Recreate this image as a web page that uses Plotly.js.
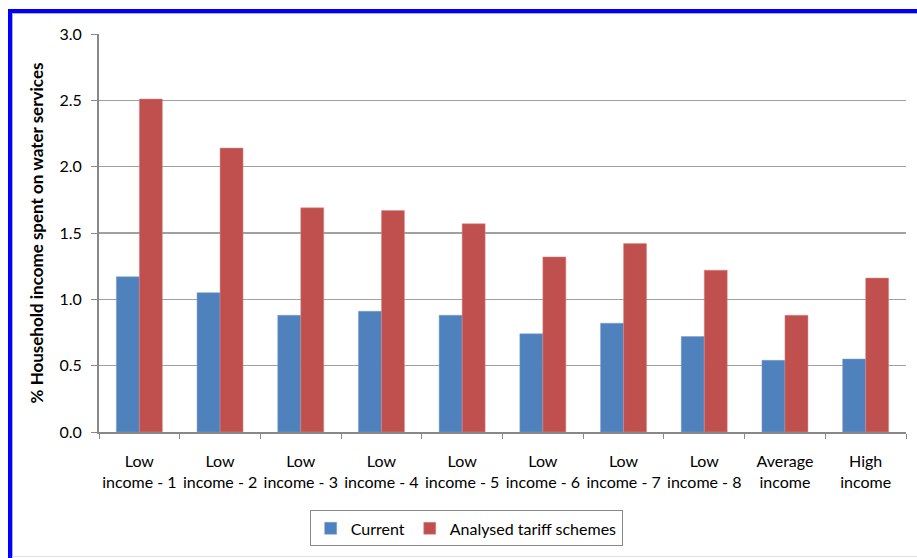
<!DOCTYPE html>
<html>
<head>
<meta charset="utf-8">
<script src="https://cdn.plot.ly/plotly-3.0.1.min.js"></script>
<style>
  html, body { margin: 0; padding: 0; background: #fff; }
  #wrap { position: relative; width: 917px; height: 558px; overflow: hidden; }
  #chart { position: absolute; left: 0; top: 0; width: 917px; height: 558px; }
  .deco { position: absolute; pointer-events: none; }
</style>
</head>
<body>
<div id="wrap">
  <div id="chart"></div>
  <div class="deco" style="left:8px; top:9px; width:909px; height:4px; background:#0000ff;"></div>
  <div class="deco" style="left:8px; top:9px; width:4px; height:549px; background:#0000ff;"></div>
  <div class="deco" style="left:12px; top:13px; width:905px; height:1px; background:#b0b0b0;"></div>
  <div class="deco" style="left:12px; top:13px; width:1px; height:545px; background:#b0b0b0;"></div>
  <div class="deco" style="left:12px; top:556px; width:905px; height:1px; background:#e0e0e0;"></div>
</div>
<script>
const categories = [
  "Low<br>income - 1", "Low<br>income - 2", "Low<br>income - 3", "Low<br>income - 4",
  "Low<br>income - 5", "Low<br>income - 6", "Low<br>income - 7", "Low<br>income - 8",
  "Average<br>income", "High<br>income"
];
const currentValues = [1.17, 1.05, 0.88, 0.91, 0.88, 0.74, 0.82, 0.72, 0.54, 0.55];
const tariffValues  = [2.51, 2.14, 1.69, 1.67, 1.57, 1.32, 1.42, 1.22, 0.88, 1.16];
const seriesNames = ["Current", "Analysed tariff schemes"];
const yTickVals = [0, 0.5, 1.0, 1.5, 2.0, 2.5, 3.0];

const font = "Lato, 'Liberation Sans', sans-serif";

const data = [
  { type: "bar", name: seriesNames[0], x: categories, y: currentValues,
    marker: { color: "#4f81bd", line: { color: "#7a9fd0", width: 0.5 } } },
  { type: "bar", name: seriesNames[1], x: categories, y: tariffValues,
    marker: { color: "#c0504d", line: { color: "#d98a88", width: 0.5 } } }
];

const layout = {
  width: 917, height: 558,
  margin: { l: 99, r: 11, t: 34, b: 123 },
  paper_bgcolor: "rgba(0,0,0,0)", plot_bgcolor: "#fff",
  barmode: "group", bargap: 0.43, bargroupgap: 0,
  font: { family: font, size: 16, color: "#000" },
  showlegend: true,
  legend: {
    orientation: "h", x: 0.455, xanchor: "center", y: -0.197, yanchor: "top",
    bordercolor: "#888", borderwidth: 1, bgcolor: "#fff",
    font: { family: font, size: 16, color: "#000" },
    traceorder: "normal"
  },
  xaxis: {
    type: "category", showline: true, linecolor: "#888", linewidth: 2,
    ticks: "outside", tickson: "boundaries", ticklen: 5, tickcolor: "#888", tickwidth: 1,
    tickfont: { family: font, size: 16, color: "#000" },
    tickangle: 0, automargin: false,
    ticklabelstandoff: 14,
    showgrid: false, fixedrange: true
  },
  yaxis: {
    range: [0, 3.0], tickvals: yTickVals, tickformat: ".1f",
    showline: true, linecolor: "#888", linewidth: 2,
    ticks: "outside", ticklen: 6, tickcolor: "#888", tickwidth: 1,
    ticklabelstandoff: 6, automargin: false,
    showgrid: true, gridcolor: "#a0a0a0", gridwidth: 1.5,
    zeroline: false,
    tickfont: { family: font, size: 16, color: "#000" },
    title: { text: "% Household income spent on water services", font: { family: font, size: 17, color: "#000", weight: "bold" }, standoff: 12 },
    fixedrange: true
  }
};

Plotly.newPlot("chart", data, layout, { displayModeBar: false, staticPlot: true });
</script>
</body>
</html>
